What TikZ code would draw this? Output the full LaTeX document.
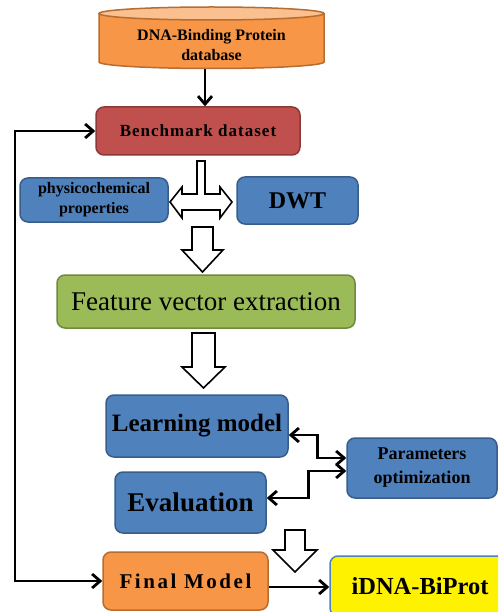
\documentclass[tikz,border=0pt]{standalone}
\usepackage{fontspec}
\setmainfont{Liberation Serif}
\usetikzlibrary{arrows.meta}
\definecolor{blueF}{HTML}{4F81BD}
\definecolor{blueD}{HTML}{385D8A}
\definecolor{redF}{HTML}{C0504D}
\definecolor{redD}{HTML}{8C3836}
\definecolor{greenF}{HTML}{9BBB59}
\definecolor{greenD}{HTML}{71893F}
\definecolor{orF}{HTML}{F79646}
\definecolor{orD}{HTML}{B66D31}
\definecolor{orL}{HTML}{FAC090}
\newcommand\fsz[2]{\fontsize{#1}{#2}\selectfont}
\tikzset{
  box/.style={draw, rounded corners=8pt, line width=1.5pt, align=center, inner sep=0pt, text=black},
  bluebox/.style={box, fill=blueF, draw=blueD},
  conn/.style={line width=2.8pt, -{Straight Barb[length=8pt,width=14pt]}},
  conntwo/.style={line width=2.8pt, {Straight Barb[length=8pt,width=14pt]}-{Straight Barb[length=8pt,width=14pt]}},
  hollow/.style={draw=black, fill=white, line width=1.6pt, line join=miter}
}
\begin{document}
\begin{tikzpicture}[x=1pt,y=-1pt]
\useasboundingbox (0,0) rectangle (498,612);
\clip (0,0) rectangle (498,612);

% cylinder
\fill[orF] (99,13.5) rectangle (324,62);
\fill[orF] (211.5,62) ellipse [x radius=112.5pt, y radius=6.5pt];
\draw[orD, line width=1.5pt] (99,13.5) -- (99,62) arc[start angle=180, end angle=360, x radius=112.5pt, y radius=6.5pt] -- (324,13.5);
\draw[orD, fill=orL, line width=1.5pt] (211.5,13.5) ellipse [x radius=112.5pt, y radius=6.5pt];
\node[align=center, inner sep=0pt, font=\fsz{16}{20}\bfseries] (db) at (211.5,45) {DNA-Binding Protein\\database};
\coordinate (dbb) at (205,69);

\node[box, fill=redF, draw=redD, minimum width=204pt, minimum height=48pt,
  font=\fsz{17}{20}\bfseries\addfontfeature{LetterSpace=6}] (bench) at (198,131) {Benchmark dataset};
\node[bluebox, minimum width=148pt, minimum height=44pt, font=\fsz{16}{20}\bfseries] (phys) at (94,200)
  {physicochemical\\properties};
\node[bluebox, minimum width=121pt, minimum height=47pt, font=\fsz{24}{28}\bfseries] (dwt) at (297.5,200.5) {DWT};
\node[box, fill=greenF, draw=greenD, minimum width=298pt, minimum height=53pt, font=\fsz{27}{30}] (feat) at (206,301.5)
  {Feature vector extraction};
\node[bluebox, minimum width=182pt, minimum height=62pt, font=\fsz{25}{28}\bfseries] (learn) at (197,426)
  {Learning model};
\node[bluebox, minimum width=151pt, minimum height=61pt, font=\fsz{27}{30}\bfseries] (eval) at (190.5,502.5)
  {Evaluation};
\node[bluebox, minimum width=150pt, minimum height=60pt, font=\fsz{18}{24}\bfseries] (param) at (422,468)
  {Parameters\\optimization};
\node[box, fill=orF, draw=orD, minimum width=165pt, minimum height=58pt,
  font=\fsz{21}{24}\bfseries\addfontfeature{LetterSpace=12}] (final) at (185.5,581) {Final Model};
\node[box, fill=yellow, draw=blueF, minimum width=180pt, minimum height=60pt, font=\fsz{24.5}{28}\bfseries] (idna) at (420,586)
  {iDNA-BiProt};

% hollow arrows
\draw[hollow] (197,161) -- (205,161) -- (205,194) -- (220,194) -- (220,187) -- (232,202) -- (220,218) -- (220,210)
  -- (182,210) -- (182,218) -- (170,202) -- (182,187) -- (182,194) -- (197,194) -- cycle;
\draw[hollow] (192,227) -- (213,227) -- (213,250) -- (223,250) -- (202.5,272) -- (182,250) -- (192,250) -- cycle;
\draw[hollow] (192,333) -- (215,333) -- (215,367) -- (225,367) -- (203.5,388) -- (182,367) -- (192,367) -- cycle;
\draw[hollow] (285,530) -- (305,530) -- (305,550) -- (317,550) -- (295,572) -- (273,550) -- (285,550) -- cycle;

% connectors
\draw[conn] (dbb) -- (dbb |- bench.north);
\coordinate (fb) at (15,0);
\draw[conntwo] (final.west) -- (final.west -| fb) -- (fb |- bench.west) -- (bench.west);
\draw[conntwo] ([yshift=-9pt]learn.east) -- ++(29,0) |- ([yshift=10pt]param.west);
\draw[conntwo] ([yshift=4.5pt]eval.east) -- ++(42,0) |- ([yshift=-3pt]param.west);
\draw[conn] ([yshift=-6pt]final.east) -- ([yshift=-6pt]final.east -| idna.west);
\end{tikzpicture}
\end{document}
